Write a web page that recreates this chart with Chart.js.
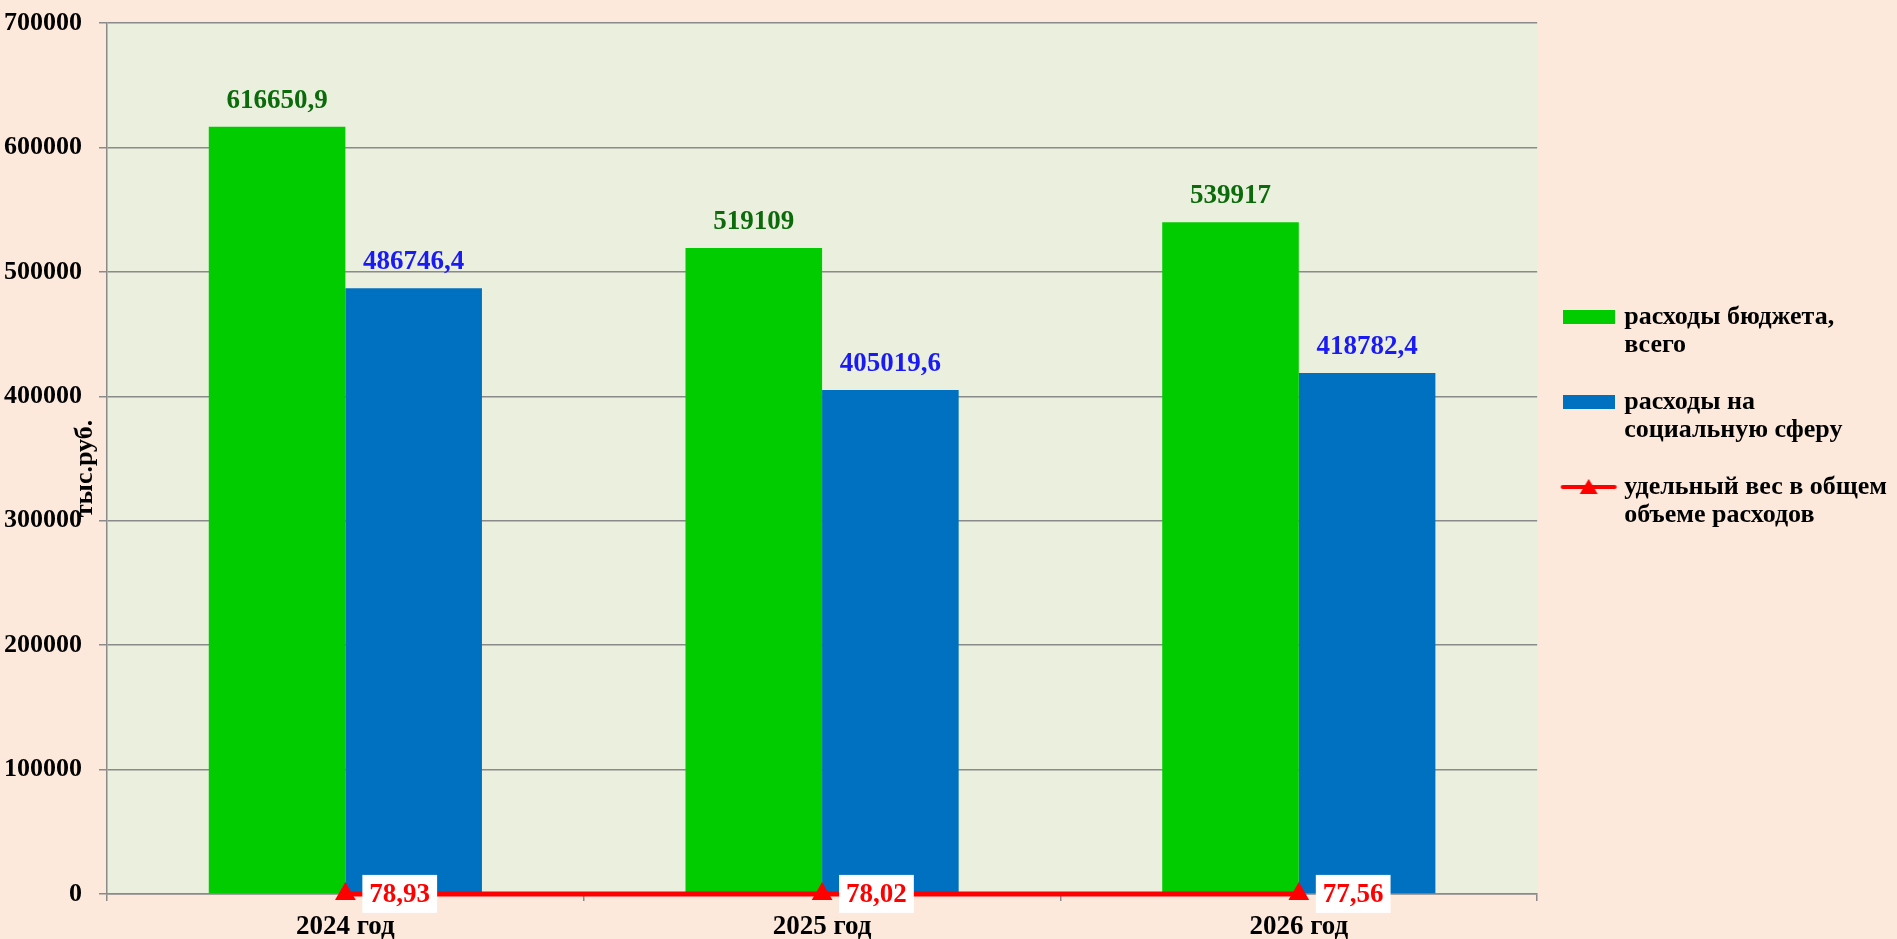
<!DOCTYPE html>
<html lang="ru">
<head>
<meta charset="utf-8">
<title>Расходы бюджета</title>
<script src="https://cdn.jsdelivr.net/npm/chart.js@4.4.1/dist/chart.umd.min.js"></script>
<style>
  html, body { margin: 0; padding: 0; background: #fce9dc; overflow: hidden; }
  #wrap { position: relative; width: 1897px; height: 939px; }
</style>
</head>
<body>
<div id="wrap"><canvas id="budget-chart"></canvas></div>
<script>
const years = ['2024 год', '2025 год', '2026 год'];
const totalSpending = [616650.9, 519109, 539917];
const socialSpending = [486746.4, 405019.6, 418782.4];
const socialShare = [78.93, 78.02, 77.56];
const seriesNames = [
  ['расходы бюджета,', 'всего'],
  ['расходы на', 'социальную сферу'],
  ['удельный вес в общем', 'объеме расходов']
];
const yMax = 700000;
const yStep = 100000;

const FONT = "'Liberation Serif', 'Times New Roman', serif";
const LABEL_SIZE = 27;
const GRID = '#8a8a8a';
Chart.defaults.font.family = FONT;
Chart.defaults.font.weight = 'bold';
Chart.defaults.color = '#000';

function formatNum(v) {
  return String(v).replace('.', ',');
}

// legend swatches are small canvases used as point styles
function barSwatch(color) {
  const c = document.createElement('canvas');
  c.width = 52;
  c.height = 14;
  const g = c.getContext('2d');
  g.fillStyle = color;
  g.fillRect(0, 0, 52, 14);
  return c;
}

function lineSwatch(color) {
  const c = document.createElement('canvas');
  c.width = 58;
  c.height = 20;
  const g = c.getContext('2d');
  g.strokeStyle = color;
  g.lineWidth = 4;
  g.lineCap = 'round';
  g.beginPath();
  g.moveTo(3, 10);
  g.lineTo(55, 10);
  g.stroke();
  g.fillStyle = color;
  g.beginPath();
  g.moveTo(29, 2);
  g.lineTo(38, 17);
  g.lineTo(20, 17);
  g.closePath();
  g.fill();
  return c;
}

const swatches = [barSwatch('#00cc00'), barSwatch('#0070c0'), lineSwatch('#ff0000')];

const plotBackground = {
  id: 'plotBackground',
  beforeDraw(chart) {
    const {ctx, chartArea: a} = chart;
    ctx.save();
    ctx.fillStyle = '#ebefde';
    ctx.fillRect(a.left, a.top, a.right - a.left, a.bottom - a.top);
    ctx.restore();
  }
};

const valueLabels = {
  id: 'valueLabels',
  afterDatasetsDraw(chart) {
    const ctx = chart.ctx;
    ctx.save();
    ctx.font = 'bold ' + LABEL_SIZE + 'px ' + FONT;
    ctx.textAlign = 'center';
    ctx.textBaseline = 'middle';
    chart.data.datasets.forEach((ds, i) => {
      chart.getDatasetMeta(i).data.forEach((el, j) => {
        const text = formatNum(ds.data[j]);
        if (ds.type === 'line') {
          const w = ctx.measureText(text).width + 14;
          const x = el.x + 17;
          ctx.fillStyle = '#ffffff';
          ctx.fillRect(x, el.y - 19, w, 38);
          ctx.fillStyle = '#ff0000';
          ctx.fillText(text, x + w / 2, el.y + 1);
        } else {
          ctx.fillStyle = ds.labelColor;
          ctx.fillText(text, el.x, el.y - 26);
        }
      });
    });
    ctx.restore();
  },
  afterDraw(chart) {
    // y axis title sits over the tick labels, as in the original
    const {ctx, chartArea: a} = chart;
    ctx.save();
    ctx.font = 'bold 26px ' + FONT;
    ctx.fillStyle = '#000';
    ctx.textAlign = 'center';
    ctx.textBaseline = 'middle';
    ctx.translate(a.left - 22, (a.top + a.bottom) / 2 + 10);
    ctx.rotate(-Math.PI / 2);
    ctx.fillText('тыс.руб.', 0, 0);
    ctx.restore();
  }
};

new Chart(document.getElementById('budget-chart').getContext('2d'), {
  type: 'bar',
  data: {
    labels: years,
    datasets: [
      {
        type: 'line',
        label: seriesNames[2].join(' '),
        data: socialShare,
        borderColor: '#ff0000',
        borderWidth: 5,
        backgroundColor: '#ff0000',
        pointStyle: 'triangle',
        pointRadius: 12,
        pointBackgroundColor: '#ff0000',
        pointBorderWidth: 0,
        clip: false,
        order: 0
      },
      {
        label: seriesNames[0].join(' '),
        data: totalSpending,
        backgroundColor: '#00cc00',
        labelColor: '#0b6b0b',
        categoryPercentage: 0.573,
        barPercentage: 1,
        order: 1
      },
      {
        label: seriesNames[1].join(' '),
        data: socialSpending,
        backgroundColor: '#0070c0',
        labelColor: '#1a1af5',
        categoryPercentage: 0.573,
        barPercentage: 1,
        order: 1
      }
    ]
  },
  options: {
    responsive: true,
    maintainAspectRatio: false,
    animation: false,
    layout: { padding: { left: 4, top: 23, right: 0, bottom: 0 } },
    scales: {
      x: {
        grid: { display: true, drawOnChartArea: false, offset: true, color: GRID, lineWidth: 1.5, tickLength: 7 },
        border: { color: GRID, width: 1.5 },
        ticks: { padding: 10, font: { size: 27, weight: 'bold' }, color: '#000' },
        afterFit: scale => {
          scale.height = 45;
        }
      },
      y: {
        min: 0,
        max: yMax,
        grid: { color: GRID, lineWidth: 1.5, tickLength: 8 },
        border: { color: GRID, width: 1.5 },
        ticks: {
          stepSize: yStep,
          padding: 17,
          font: { size: 26, weight: 'bold' },
          color: '#000',
          callback: v => String(v)
        },
        afterFit: scale => {
          scale.width = 103;
          scale.paddingTop = 0;
          scale.paddingBottom = 0;
        }
      }
    },
    plugins: {
      tooltip: { enabled: false },
      legend: {
        position: 'right',
        align: 'start',
        title: { display: true, text: ' ', font: { size: 10, lineHeight: 1 }, padding: { top: 242, bottom: 0 } },
        labels: {
          usePointStyle: true,
          pointStyleWidth: 45,
          boxHeight: 14,
          padding: 29,
          color: '#000',
          font: { size: 26, weight: 'bold', lineHeight: 28 / 26 },
          generateLabels: () => seriesNames.map((text, i) => ({
            text: text,
            pointStyle: swatches[i],
            fillStyle: 'transparent',
            strokeStyle: 'transparent',
            lineWidth: 0,
            hidden: false,
            fontColor: '#000',
            datasetIndex: i
          }))
        }
      }
    }
  },
  plugins: [plotBackground, valueLabels]
});
</script>
</body>
</html>
